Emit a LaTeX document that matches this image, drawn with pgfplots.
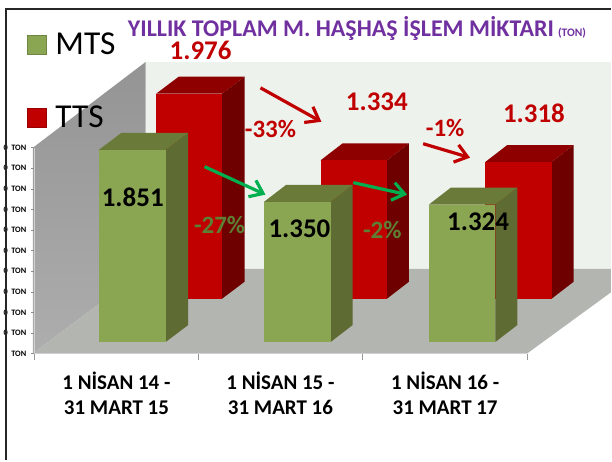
\documentclass[border=0pt]{standalone}
\usepackage{pgfplots}
\pgfplotsset{compat=1.18}
\usepackage{fontspec}
\setmainfont{Carlito}
\usetikzlibrary{arrows.meta}
\definecolor{gfront}{HTML}{8BA653}
\definecolor{gside}{HTML}{5E6B32}
\definecolor{gtop}{HTML}{6A7A38}
\definecolor{rfront}{HTML}{C00000}
\definecolor{rside}{HTML}{6F0000}
\definecolor{rtop}{HTML}{8E0000}
\definecolor{purp}{HTML}{7030A0}
\definecolor{arrg}{HTML}{00B050}
\definecolor{pctg}{HTML}{5E8035}
\definecolor{backwall}{HTML}{EEF2EC}
\definecolor{floorc}{HTML}{B3B5B0}
\pgfplotsset{
  canvas/.style={scale only axis,width=612pt,height=461pt,at={(0pt,0pt)},anchor=south west,
    xmin=0,xmax=612,ymin=0,ymax=461,y dir=reverse,axis lines=none,clip=false},
  bars/.style={scale only axis,width=493.5pt,height=206.3pt,at={(34.5pt,106.7pt)},anchor=south west,
    xmin=34.5,xmax=528,axis lines=none,clip=false},
  poly/.style={draw=none,mark=none,fill=#1},
  squarekey/.style={legend image code/.code={\draw[##1] (0pt,-9.5pt) rectangle (19pt,9.5pt);\path (26pt,0pt);}},
}
\newcommand{\zt}{0\hspace{1.5pt} TON}
\begin{document}
\begin{tikzpicture}
% ---------- background: walls and floor (picture coordinates)
\begin{axis}[canvas]
\addplot[poly=white] coordinates {(0,0)(612,0)(612,461)(0,461)} --cycle;
\addplot[poly=backwall] coordinates {(146,62)(612,62)(612,269.3)(146,269.3)} --cycle;
\addplot[draw=none,mark=none,top color=black!42,bottom color=black!32] coordinates {(33,148)(146,62)(146,269.3)(33,354.3)} --cycle;
\addplot[poly=floorc] coordinates {(33,354.3)(146,269.3)(612,269.3)(612,293)(528,354.3)} --cycle;
\end{axis}
% ---------- value axis, tonnes
\begin{axis}[scale only axis,width=493.5pt,height=206.3pt,at={(34.5pt,106.7pt)},anchor=south west,
  xmin=34.5,xmax=528,ymin=0,ymax=2000,clip=false,
  axis x line*=bottom,axis y line*=left,
  axis line style={draw=black!18,line width=1pt},
  tick align=outside,
  ytick={0,200,...,2000},
  yticklabels={TON,\zt,\zt,\zt,\zt,\zt,\zt,\zt,\zt,\zt,\zt},
  yticklabel style={font=\bfseries\fontsize{8.3}{8.3}\selectfont,inner xsep=0pt,xshift=-5pt},
  y tick style={draw=black!45,line width=0.6pt},
  major tick length=3pt,
  xtick={116.7,281,446},
  major x tick style={draw=none},
  minor xtick={34.5,199,363.5,528},
  minor x tick style={draw=black!40,line width=0.6pt},
  minor tick length=6pt,
  xticklabels={1 NİSAN 14 -\\31 MART 15,1 NİSAN 15 -\\31 MART 16,1 NİSAN 16 -\\31 MART 17},
  xticklabel style={font=\bfseries\fontsize{21}{25}\selectfont,align=center,yshift=-12pt},
]
\end{axis}
% ---------- TTS bars, back row: 0 tonnes at the foot of the back row
\begin{axis}[bars,ymin=-529,ymax=1455]
% 1.976
\addplot[poly=rside] coordinates {(222.5,0)(245,163)(245,2139)(222.5,1976)} --cycle;
\addplot[poly=rtop] coordinates {(156.5,1976)(222.5,1976)(245,2139)(179,2139)} --cycle;
\addplot[poly=rfront] coordinates {(156.5,0)(222.5,0)(222.5,1976)(156.5,1976)} --cycle;
% 1.334
\addplot[poly=rside] coordinates {(387.7,0)(409.7,163)(409.7,1497)(387.7,1334)} --cycle;
\addplot[poly=rtop] coordinates {(321.3,1334)(387.7,1334)(409.7,1497)(343.3,1497)} --cycle;
\addplot[poly=rfront] coordinates {(321.3,0)(387.7,0)(387.7,1334)(321.3,1334)} --cycle;
% 1.318
\addplot[poly=rside] coordinates {(552.7,0)(574.7,163)(574.7,1481)(552.7,1318)} --cycle;
\addplot[poly=rtop] coordinates {(486.3,1318)(552.7,1318)(574.7,1481)(508.3,1481)} --cycle;
\addplot[poly=rfront] coordinates {(486.3,0)(552.7,0)(552.7,1318)(486.3,1318)} --cycle;
\end{axis}
% ---------- MTS bars, front row
\begin{axis}[bars,ymin=-112,ymax=1872]
% 1.851
\addplot[poly=gside] coordinates {(166,0)(188.5,163)(188.5,2014)(166,1851)} --cycle;
\addplot[poly=gtop] coordinates {(99,1851)(166,1851)(188.5,2014)(121.5,2014)} --cycle;
\addplot[poly=gfront] coordinates {(99,0)(166,0)(166,1851)(99,1851)} --cycle;
% 1.350
\addplot[poly=gside] coordinates {(331.3,0)(353.3,163)(353.3,1513)(331.3,1350)} --cycle;
\addplot[poly=gtop] coordinates {(264.5,1350)(331.3,1350)(353.3,1513)(286.5,1513)} --cycle;
\addplot[poly=gfront] coordinates {(264.5,0)(331.3,0)(331.3,1350)(264.5,1350)} --cycle;
% 1.324
\addplot[poly=gside] coordinates {(496.3,0)(518.3,163)(518.3,1487)(496.3,1324)} --cycle;
\addplot[poly=gtop] coordinates {(429.7,1324)(496.3,1324)(518.3,1487)(451.7,1487)} --cycle;
\addplot[poly=gfront] coordinates {(429.7,0)(496.3,0)(496.3,1324)(429.7,1324)} --cycle;
\end{axis}
% ---------- annotations, frame, legend (picture coordinates)
\begin{axis}[canvas,
  legend style={draw=none,fill=none,at={(axis cs:27,31)},anchor=north west,
    font=\fontsize{33.5}{33.5}\selectfont,row sep=45.5pt,inner sep=0pt,
    cells={anchor=west}},
  legend cell align=left,
]
\addlegendimage{squarekey,draw=gfront!80!black,fill=gfront}
\addlegendentry{MTS}
\addlegendimage{squarekey,draw=rfront!80!black,fill=rfront}
\addlegendentry{TTS}
% frame
\addplot[black!85,line width=2.4pt,mark=none,forget plot] coordinates {(6.2,461)(6.2,9)(612,9)};
% arrows
\addplot[rfront,line width=3.2pt,mark=none,forget plot,-{Straight Barb[length=12pt,width=18pt]}] coordinates {(261,88)(322,122)};
\addplot[rfront,line width=3.2pt,mark=none,forget plot,-{Straight Barb[length=12pt,width=18pt]}] coordinates {(424,144)(471,158)};
\addplot[arrg,line width=3.2pt,mark=none,forget plot,-{Straight Barb[length=12pt,width=18pt]}] coordinates {(205,167)(266,195)};
\addplot[arrg,line width=3.2pt,mark=none,forget plot,-{Straight Barb[length=12pt,width=18pt]}] coordinates {(354,183)(408,195)};
% title
\node[purp,font=\bfseries\fontsize{24}{24}\selectfont,anchor=base west,inner sep=0] at (axis cs:128,36.5) {YILLIK TOPLAM M. HAŞHAŞ İŞLEM MİKTARI};
\node[purp,font=\bfseries\fontsize{11.5}{11.5}\selectfont,anchor=base west,inner sep=0] at (axis cs:559,36.5) {(TON)};
% values
\node[rfront,font=\bfseries\fontsize{27}{27}\selectfont] at (axis cs:201,51) {1.976};
\node[rfront,font=\bfseries\fontsize{27}{27}\selectfont] at (axis cs:377.6,102) {1.334};
\node[rfront,font=\bfseries\fontsize{27}{27}\selectfont] at (axis cs:535,114) {1.318};
\node[black,font=\bfseries\fontsize{27}{27}\selectfont] at (axis cs:133,198) {1.851};
\node[black,font=\bfseries\fontsize{27}{27}\selectfont] at (axis cs:300,229) {1.350};
\node[black,font=\bfseries\fontsize{27}{27}\selectfont] at (axis cs:479,222) {1.324};
\node[rfront,font=\bfseries\fontsize{25}{25}\selectfont] at (axis cs:271,129) {-33\%};
\node[rfront,font=\bfseries\fontsize{25}{25}\selectfont] at (axis cs:446,128) {-1\%};
\node[pctg,font=\bfseries\fontsize{25}{25}\selectfont] at (axis cs:220,225) {-27\%};
\node[pctg,font=\bfseries\fontsize{25}{25}\selectfont] at (axis cs:383,230) {-2\%};
\end{axis}
\end{tikzpicture}
\end{document}
